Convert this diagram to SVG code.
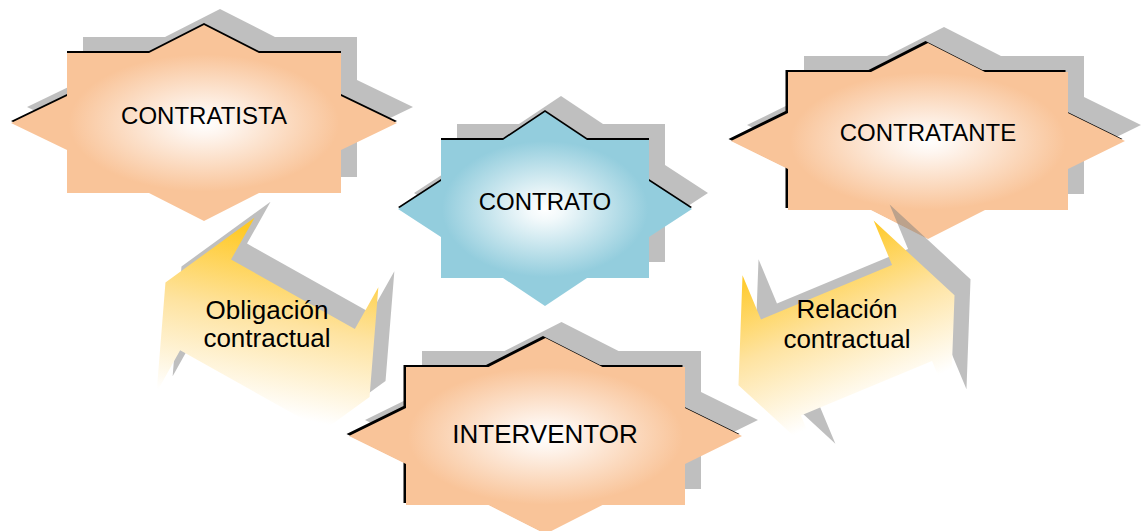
<svg xmlns="http://www.w3.org/2000/svg" xmlns:xlink="http://www.w3.org/1999/xlink" width="1147" height="531" viewBox="0 0 1147 531">
  <style>
    .shadow { fill: #808080; fill-opacity: 0.5; }
    .edge { fill: #000000; }
    .peach { fill: url(#gPeach); }
    .blue { fill: url(#gBlue); }
    .lbl { font-family: "Liberation Sans", Arial, sans-serif; fill: #000000; text-anchor: middle; }
    .s24 { font-size: 24px; }
    .s26 { font-size: 26px; }
  </style>
  <defs>
    <radialGradient id="gPeach" cx="0.5" cy="0.5" r="0.5">
      <stop offset="0" stop-color="#FFFFFF"/>
      <stop offset="0.12" stop-color="#FEF6F0"/>
      <stop offset="0.7" stop-color="#F9C499"/>
      <stop offset="1" stop-color="#F9C499"/>
    </radialGradient>
    <radialGradient id="gBlue" cx="0.5" cy="0.5" r="0.5">
      <stop offset="0" stop-color="#FFFFFF"/>
      <stop offset="0.12" stop-color="#F2F9FB"/>
      <stop offset="0.7" stop-color="#93CDDD"/>
      <stop offset="1" stop-color="#93CDDD"/>
    </radialGradient>
    <linearGradient id="gYellowL" gradientUnits="userSpaceOnUse" x1="-30" y1="-100" x2="30" y2="90">
      <stop offset="0" stop-color="#FFC926"/>
      <stop offset="0.42" stop-color="#FEE3A0"/>
      <stop offset="0.88" stop-color="#FFFFFF"/>
    </linearGradient>
    <linearGradient id="gYellowR" gradientUnits="userSpaceOnUse" x1="0" y1="-100" x2="0" y2="90">
      <stop offset="0" stop-color="#FFC926"/>
      <stop offset="0.42" stop-color="#FEE3A0"/>
      <stop offset="0.88" stop-color="#FFFFFF"/>
    </linearGradient>
    <polygon id="arrow" points="-117,0 -71,-100 -71,-52 71,-52 71,-100 117,0 71,100 71,52 -71,52 -71,100"/>
    <polygon id="starA" points="67,53 149,53 204,25 259,53 341,53 341,96 397,123 341,150 341,193 259,193 204,221 149,193 67,193 67,150 11,123 67,96"/>
    <polygon id="starB" points="441,140 503,140 545,112 587,140 649,140 649,181 692,209 649,237 649,278 587,278 545,306 503,278 441,278 441,237 398,209 441,181"/>
    <polygon id="starC" points="788,72 871,72 928,43 985,72 1068,72 1068,113 1125,141 1068,169 1068,210 985,210 928,239 871,210 788,210 788,169 731,141 788,113"/>
    <polygon id="starD" points="406,367 488.5,367 545.5,338 602.5,367 685,367 685,408 742,436 685,464 685,505 602.5,505 545.5,534 488.5,505 406,505 406,464 349,436 406,408"/>
  </defs>

  <g id="node-contratista">
    <use href="#starA" class="shadow" transform="translate(16,-16)"/>
    <use href="#starA" class="edge" transform="translate(0,-2)"/>
    <use href="#starA" class="peach"/>
    <text class="lbl s24" x="204" y="124">CONTRATISTA</text>
  </g>

  <g id="node-contrato">
    <use href="#starB" class="shadow" transform="translate(16,-16)"/>
    <use href="#starB" class="edge" transform="translate(0,-2)"/>
    <use href="#starB" class="blue"/>
    <text class="lbl s24" x="545" y="210">CONTRATO</text>
  </g>

  <g id="node-contratante">
    <use href="#starC" class="shadow" transform="translate(16,-16)"/>
    <use href="#starC" class="edge" transform="translate(-2.5,-2)"/>
    <use href="#starC" class="peach"/>
    <text class="lbl s24" x="928" y="141">CONTRATANTE</text>
  </g>

  <g id="node-interventor">
    <use href="#starD" class="shadow" transform="translate(16,-16)"/>
    <use href="#starD" class="edge" transform="translate(-2.5,-2)"/>
    <use href="#starD" class="peach"/>
    <text class="lbl s26" x="545" y="443">INTERVENTOR</text>
  </g>

  <g id="connectors">
    <g id="arrow-obligacion">
      <use href="#arrow" class="shadow" transform="translate(283.5,323.7) rotate(29.3)"/>
      <use href="#arrow" fill="url(#gYellowL)" transform="translate(267.5,339.7) rotate(29.3)"/>
      <text class="lbl s26" x="267" y="319">Obligación</text>
      <text class="lbl s26" x="267" y="347">contractual</text>
    </g>
    <g id="arrow-relacion">
      <use href="#arrow" class="shadow" transform="translate(862.5,324.2) rotate(-22.6)"/>
      <use href="#arrow" fill="url(#gYellowR)" transform="translate(846.5,340.2) rotate(-22.6)"/>
      <text class="lbl s26" x="847" y="318">Relación</text>
      <text class="lbl s26" x="847" y="348">contractual</text>
    </g>
  </g>
</svg>
